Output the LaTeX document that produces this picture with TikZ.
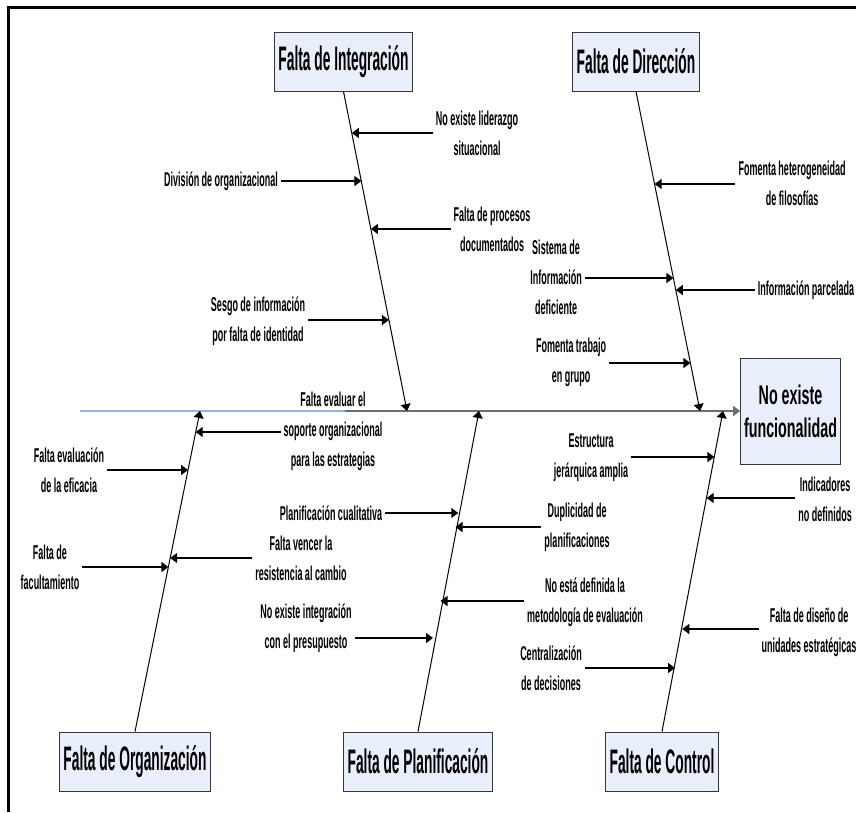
\documentclass[tikz,border=0pt]{standalone}
\usepackage{fontspec}
\newfontfamily\narrowlabel[FakeStretch=0.45]{Liberation Sans}
\newfontfamily\narrowbox[FakeStretch=0.405]{Liberation Sans}
\newfontfamily\narroweffect[FakeStretch=0.53]{Liberation Sans}
\usepackage{tikz}
\usetikzlibrary{
    arrows.meta,
    calc
}
\definecolor{BoxFill}{RGB}{232,238,250}
\definecolor{BoxLine}{RGB}{55,55,55}
\definecolor{SpineBlue}{RGB}{150,180,220}
\definecolor{SpineGray}{RGB}{110,110,110}

\begin{document}
\begin{tikzpicture}[
    x=1pt,
    y=-1pt,
    cause/.style={
        draw=BoxLine,
        fill=BoxFill,
        line width=1pt,
        minimum height=59pt,
        inner xsep=4pt,
        font=\narrowbox\bfseries\fontsize{34}{38}\selectfont
    },
    effect/.style={
        draw=BoxLine,
        fill=BoxFill,
        line width=1pt,
        minimum width=97pt,
        minimum height=106pt,
        align=center,
        font=\narroweffect\bfseries\fontsize{27}{33}\selectfont
    },
    sub/.style={
        align=center,
        inner sep=3pt,
        font=\narrowlabel\bfseries\fontsize{20}{30}\selectfont
    },
    bone/.style={
        -{Triangle[length=7pt,width=10pt]},
        line width=1pt
    },
    arrow/.style={
        -{Triangle[length=7pt,width=10pt]},
        line width=1.4pt
    }
]
\useasboundingbox (0,0) rectangle (856,812);
%
\draw[line width=3pt] (8,812) -- (8,7) -- (856,7);
%
% effect and spine
\node[effect] (effect) at (790.5,411) {No existe\\funcionalidad};
\coordinate (tail) at (80,411);
\coordinate (split) at (345,411);
\draw[arrow, line width=2pt, color=SpineGray] (tail) -- (effect.west);
\draw[line width=2pt, color=SpineBlue] (tail) -- (split);
%
% main causes
\node[cause] (integ) at (343.5,61.5) {Falta de Integración};
\node[cause] (direc) at (636,61.5) {Falta de Dirección};
\node[cause] (organ) at (135,761.5) {Falta de Organización};
\node[cause] (plani) at (418,761.5) {Falta de Planificación};
\node[cause] (contr) at (662,761.5) {Falta de Control};
%
\coordinate (jI) at (407,411);
\coordinate (jD) at (700,411);
\coordinate (jO) at (200,411);
\coordinate (jP) at (479,411);
\coordinate (jC) at (723,411);
%
\draw[bone] (integ.south) -- (jI);
\draw[bone] (direc.south) -- (jD);
\draw[bone] (organ.north) -- (jO);
\draw[bone] (plani.north) -- (jP);
\draw[bone] (contr.north) -- (jC);
%
% Falta de Integracion
\coordinate (b1) at (351.8,133);
\coordinate (b2) at (361.4,181);
\coordinate (b3) at (370.9,229);
\coordinate (b4) at (388.9,320);
\node[sub] (t1) at (477,133) {No existe liderazgo\\situacional};
\node[sub] (t2) at (221,181) {División de organizacional};
\node[sub] (t3) at (492,229) {Falta de procesos\\documentados};
\node[sub] (t4) at (258,321) {Sesgo de información\\por falta de identidad};
\draw[arrow] (t1.west |- b1) -- (b1);
\draw[arrow] (t2.east |- b2) -- (b2);
\draw[arrow] (t3.west |- b3) -- (b3);
\draw[arrow] (t4.east |- b4) -- (b4);
%
% Falta de Direccion
\coordinate (b6) at (654.6,184);
\coordinate (b7) at (673.4,278);
\coordinate (b8) at (675.8,290);
\coordinate (b9) at (690.4,363);
\node[sub] (t6) at (792,183) {Fomenta heterogeneidad\\de filosofías};
\node[sub] (t7) at (556,277) {Sistema de\\Información\\deficiente};
\node[sub] (t8) at (806,290) {Información parcelada};
\node[sub] (t9) at (571,362) {Fomenta trabajo\\en grupo};
\draw[arrow] (t6.west |- b6) -- (b6);
\draw[arrow] (t7.east |- b7) -- (b7);
\draw[arrow] (t8.west |- b8) -- (b8);
\draw[arrow] (t9.east |- b9) -- (b9);
%
% Falta de Organizacion
\coordinate (b5) at (195.7,432);
\coordinate (b10) at (188.1,470);
\coordinate (b11) at (170.2,558);
\coordinate (b12) at (168.4,567);
\node[sub] (t5) at (333,431) {Falta evaluar el\\soporte organizacional\\para las estrategias};
\node[sub] (t10) at (69,470) {Falta evaluación\\de la eficacia};
\node[sub] (t11) at (301,558) {Falta vencer la\\resistencia al cambio};
\node[sub] (t12) at (50,567) {Falta de\\facultamiento};
\draw[arrow] (t5.west |- b5) -- (b5);
\draw[arrow] (t10.east |- b10) -- (b10);
\draw[arrow] (t11.west |- b11) -- (b11);
\draw[arrow] (t12.east |- b12) -- (b12);
%
% Falta de Planificacion
\coordinate (b13) at (458.3,513);
\coordinate (b14) at (455.5,527);
\coordinate (b15) at (440.5,601);
\coordinate (b16) at (433,638);
\node[sub] (t13) at (331,513) {Planificación cualitativa};
\node[sub] (t14) at (577,527) {Duplicidad de\\planificaciones};
\node[sub] (t15) at (585,602) {No está definida la\\metodología de evaluación};
\node[sub] (t16) at (306,628) {No existe integración\\con el presupuesto};
\draw[arrow] (t13.east |- b13) -- (b13);
\draw[arrow] (t14.west |- b14) -- (b14);
\draw[arrow] (t15.west |- b15) -- (b15);
\draw[arrow] (t16.east |- b16) -- (b16);
%
% Falta de Control
\coordinate (b17) at (714.4,457);
\coordinate (b18) at (706.7,498);
\coordinate (b19) at (682.3,629);
\coordinate (b20) at (675,668);
\node[sub] (t17) at (591,458) {Estructura\\jerárquica amplia};
\node[sub] (t18) at (825,499) {Indicadores\\no definidos};
\node[sub] (t19) at (809,632) {Falta de diseño de\\unidades estratégicas};
\node[sub] (t20) at (551,668) {Centralización\\de decisiones};
\draw[arrow] (t17.east |- b17) -- (b17);
\draw[arrow] (t18.west |- b18) -- (b18);
\draw[arrow] (t19.west |- b19) -- (b19);
\draw[arrow] (t20.east |- b20) -- (b20);
%
\end{tikzpicture}
\end{document}
